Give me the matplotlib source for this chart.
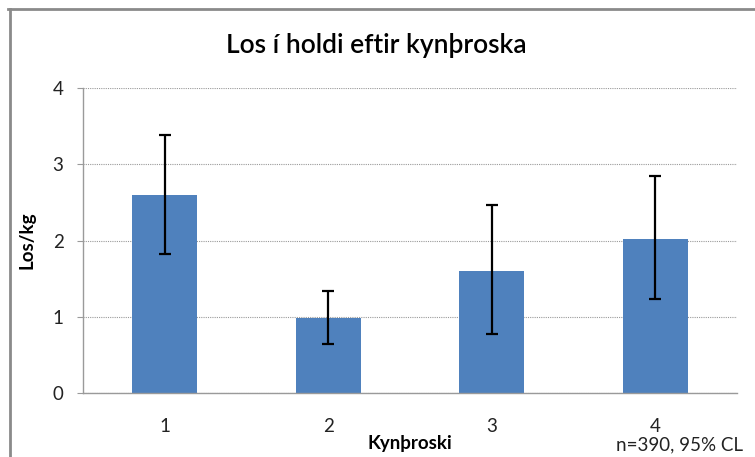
import matplotlib
matplotlib.use("Agg")
import matplotlib.pyplot as plt
from matplotlib.lines import Line2D

categories = ["1", "2", "3", "4"]
values = [2.60, 0.99, 1.60, 2.02]
err_low = [1.82, 0.64, 0.77, 1.23]
err_high = [3.39, 1.34, 2.47, 2.85]
y_ticks = [0, 1, 2, 3, 4]

plt.rcParams['font.family'] = ['Lato', 'DejaVu Sans']

fig = plt.figure(figsize=(7.55, 4.57), dpi=100)
ax = fig.add_axes([83/755, 1-393/457, (737-83)/755, (393-88)/457])

x = list(range(len(categories)))
yerr = [[v - lo for v, lo in zip(values, err_low)],
        [hi - v for v, hi in zip(values, err_high)]]
ax.bar(x, values, width=0.40, color="#4F81BD", zorder=2)
ax.errorbar(x, values, yerr=yerr, fmt="none", ecolor="black", elinewidth=1.6,
            capsize=4.5, capthick=1.6, zorder=3)

ax.set_xlim(-0.5, 3.5)
ax.set_ylim(0, 4)
ax.set_yticks(y_ticks)
ax.set_xticks(x)
ax.set_xticklabels(categories)
ax.yaxis.grid(True, linestyle=(0, (1, 1)), color="#9a9a9a", linewidth=0.8)
ax.set_axisbelow(True)
for s in ["top", "right"]:
    ax.spines[s].set_visible(False)
for s in ["left", "bottom"]:
    ax.spines[s].set_color("#9a9a9a")
    ax.spines[s].set_linewidth(1.0)
ax.tick_params(axis="y", length=4, color="#9a9a9a", pad=10, labelsize=13.5, labelcolor="#222222")
ax.tick_params(axis="x", length=0, pad=18, labelsize=13.5, labelcolor="#222222")

ax.set_ylabel("Los/kg", fontsize=13.5, fontweight="bold")
ax.yaxis.set_label_coords(-0.072, 0.5)
fig.text(410/755, 1-444/457, "Kynþroski", fontsize=13.5, fontweight="bold",
         ha="center", va="center")
fig.text(680/755, 1-445/457, "n=390, 95% CL", fontsize=13.5, ha="center",
         va="center", color="#222222")
fig.text(376/755, 1-46/457, "Los í holdi eftir kynþroska", fontsize=19,
         fontweight="semibold", ha="center", va="center")

# outer chart frame (cropped screenshot)
fig.add_artist(Line2D([8/755, 1.0], [1-9/457, 1-9/457], transform=fig.transFigure,
                      color="#8a8a8a", linewidth=2))
fig.add_artist(Line2D([10/755, 10/755], [0, 1-9/457], transform=fig.transFigure,
                      color="#8a8a8a", linewidth=2))

fig.savefig("out.png", dpi=100)
